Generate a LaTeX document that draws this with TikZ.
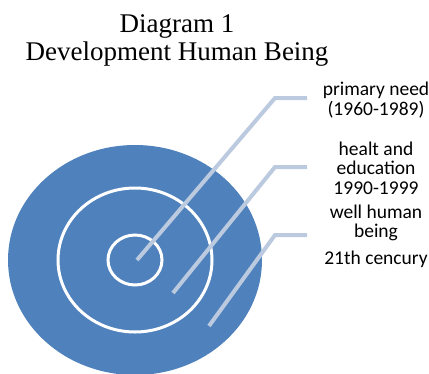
\documentclass[tikz,border=0pt]{standalone}
\usepackage{fontspec}
\setmainfont{Liberation Serif}
\setsansfont{Carlito}
\usetikzlibrary{shapes.geometric}
\definecolor{ringblue}{HTML}{4F81BD}
\definecolor{leadergray}{HTML}{BCCAE0}
\tikzset{%
% Specifications for style of nodes:
target/.style = {ellipse, inner sep=0pt, fill=ringblue},
ring/.style = {ellipse, inner sep=0pt, draw=white, line width=3pt},
leader/.style = {draw=leadergray, line width=4pt},
caption/.style = {align=center, font=\sffamily\fontsize{19.5}{19.5}\selectfont},
heading/.style = {align=center, font=\fontsize{27}{28}\selectfont},
}
\begin{document}
\begin{tikzpicture}[x=1pt, y=-1pt]
        \useasboundingbox (0,0) rectangle (429,373);
        % Specification of nodes (position, etc.)
        \node (title) [heading] at (177,40) {Diagram 1\\Development Human Being};
        \node (outer) [target, minimum width=254pt, minimum height=230pt] at (135,260) {};
        \node (middle) [ring, minimum width=154pt, minimum height=144pt] at (135,260) {};
        \node (core) [ring, minimum width=54pt, minimum height=50pt] at (135,260) {};

        \node (primary) [caption] at (376,100) {primary need\\(1960-1989)};
        \node (health) [caption] at (376,168) {healt and\\education\\1990-1999};
        \node (wellbeing) [caption] at (376,223) {well human\\being};
        \node (century) [caption] at (376,259) {21th cencury};

        % leader lines from the rings out to the labels
        \coordinate (inCore) at (137,260);
        \coordinate (inMiddle) at (173,293);
        \coordinate (inOuter) at (209,326);
        \coordinate (bendCore) at (275,98);
        \coordinate (bendMiddle) at (275,167);
        \coordinate (bendOuter) at (275,235);
        \coordinate (endCore) at (307,98);
        \coordinate (endMiddle) at (307,167);
        \coordinate (endOuter) at (307,235);

        \draw [leader] (inCore) -- (bendCore) -- (endCore);
        \draw [leader] (inMiddle) -- (bendMiddle) -- (endMiddle);
        \draw [leader] (inOuter) -- (bendOuter) -- (endOuter);
    \end{tikzpicture}
\end{document}
